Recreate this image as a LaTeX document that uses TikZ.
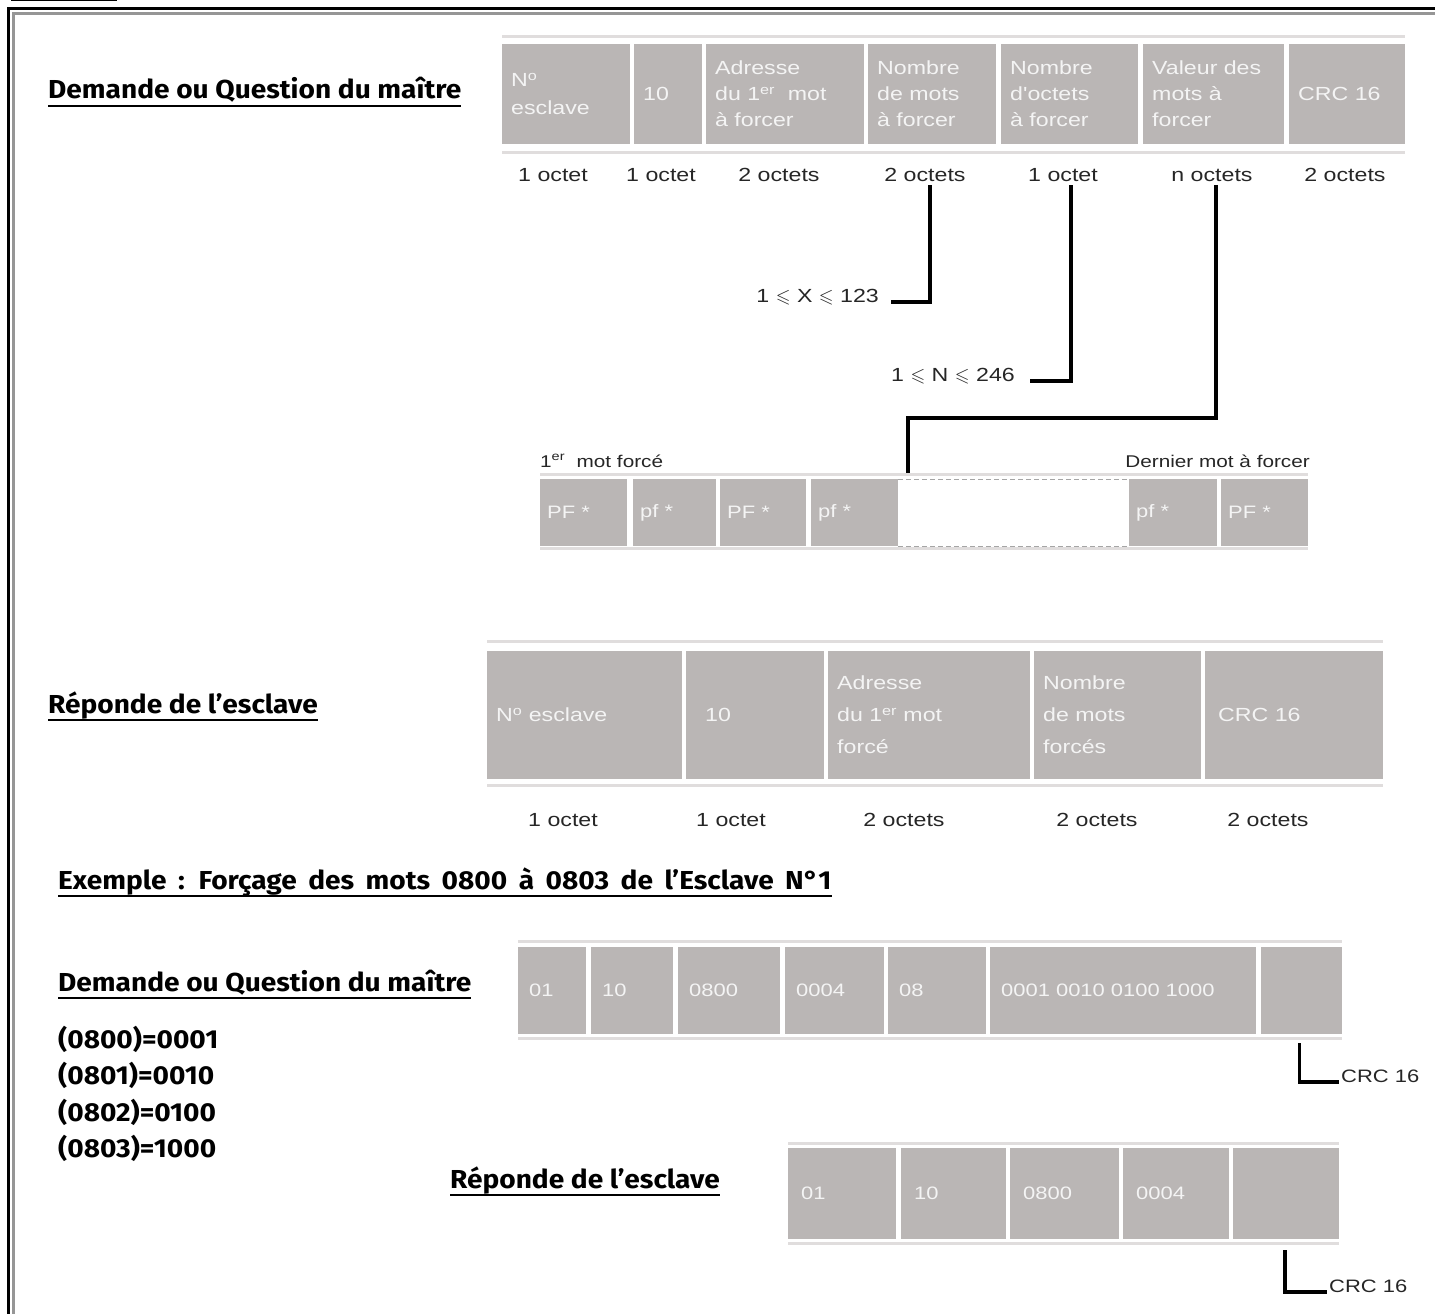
\documentclass[tikz,border=0pt]{standalone}
\usepackage{fontspec}
\usepackage{amssymb}
\newfontfamily\cellfont{Liberation Sans}[FakeStretch=1.22]
\newfontfamily\comicfont{Fira Sans}[FakeStretch=1.08]
\definecolor{cellgrey}{RGB}{186,182,181}
\definecolor{rulegrey}{RGB}{224,221,221}
\definecolor{celltext}{RGB}{244,244,244}
\definecolor{framegrey}{RGB}{150,150,150}
\definecolor{dashgrey}{RGB}{165,165,165}
\usetikzlibrary{positioning}

\begin{document}
\begin{tikzpicture}[
    x=1pt, y=-1pt,
    cell/.style={rectangle,fill=cellgrey,text=celltext,anchor=north west,inner xsep=9pt,inner ysep=0pt,align=left},
    regle/.style={rulegrey,line width=3pt},
    octet/.style={font=\cellfont\fontsize{19}{22}\selectfont,text=black!85},
    link/.style={draw,line width=3.5pt},
    titre/.style={font=\comicfont\bfseries\fontsize{26}{30}\selectfont,anchor=base west,inner sep=0pt},
    souligne/.style={line width=2.5pt}
    ]

    \useasboundingbox (0,0) rectangle (1435,1314);

    % page frame
    \draw[line width=2pt] (11,0.5) -- (117,0.5);
    \draw[line width=3pt] (8.5,1314) -- (8.5,8.5) -- (1435,8.5);
    \draw[framegrey,line width=3pt] (13.5,1314) -- (13.5,13.5) -- (1435,13.5);

    % titles
    \node (t1) [titre] at (48,99) {Demande ou Question du maître};
    \node (t2) [titre] at (48,713) {Réponde de l’esclave};
    \node (t3) [titre] at (58,889) {\spaceskip=11.5pt Exemple : Forçage des mots 0800 à 0803 de l’Esclave N°1};
    \node (t4) [titre] at (58,991) {Demande ou Question du maître};
    \node (t6) [titre] at (450,1188) {Réponde de l’esclave};
    \foreach \n in {t1,t2,t3,t4,t6}
      \draw[souligne] ([yshift=-7pt]\n.base west) -- ([yshift=-7pt]\n.base east);

    \node (v0) [titre] at (58,1048) {(0800)=0001};
    \node (v1) [titre] at (58,1084) {(0801)=0010};
    \node (v2) [titre] at (58,1121) {(0802)=0100};
    \node (v3) [titre] at (58,1157) {(0803)=1000};

    % master request frame
    \foreach \i/\x/\w/\t [evaluate=\w as \tw using \w-18] in {
        1/502/128/{N\textsuperscript{o}\\[2pt]esclave},
        2/634/68/{10},
        3/706/158/{Adresse\\du 1\textsuperscript{er}\ \ mot\\à forcer},
        4/868/128/{Nombre\\de mots\\à forcer},
        5/1001/137/{Nombre\\d'octets\\à forcer},
        6/1143/141/{Valeur des\\mots à\\forcer},
        7/1289/116/{CRC 16}}
      \node (qa\i) [cell,minimum height=100pt,text width=\tw pt,font=\cellfont\fontsize{19}{26}\selectfont] at (\x,44) {\t};
    \draw[regle] ([yshift=7.5pt]qa1.north west) -- ([yshift=7.5pt]qa7.north east);
    \draw[regle] ([yshift=-8pt]qa1.south west) -- ([yshift=-8pt]qa7.south east);

    \foreach \i/\x/\t in {1/553/1 octet,2/661/1 octet,3/779/2 octets,4/925/2 octets,
                          5/1063/1 octet,6/1212/n octets,7/1345/2 octets}
      \node (oa\i) [octet] at (\x,175) {\t};

    \node (lx) [octet,anchor=base east,inner xsep=12pt] at (891,302)
      {1 $\leqslant$ X $\leqslant$ 123};
    \node (ln) [octet,anchor=base east,inner xsep=15pt] at (1030,381)
      {1 $\leqslant$ N $\leqslant$ 246};
    \coordinate (bend) at (908,418);
    \coordinate (pfin) at (908,473);

    \draw[link] ([xshift=5pt]oa4.south) |- (lx.base east);
    \draw[link] ([xshift=8pt]oa5.south) |- (ln.base east);
    \draw[link] ([xshift=4pt]oa6.south) |- (bend) -- (pfin);

    % forced words
    \foreach \i/\x/\w/\t [evaluate=\w as \tw using \w-14] in {
        1/540/87/{PF *},2/633/83/{pf *},3/720/86/{PF *},4/811/87/{pf *},
        6/1129/88/{pf *},7/1221/87/{PF *}}
      \node (pf\i) [cell,inner xsep=7pt,minimum height=67pt,text width=\tw pt,font=\cellfont\fontsize{18}{22}\selectfont] at (\x,479) {\t};
    \node (pf5) [rectangle,anchor=north west,inner sep=0pt,minimum width=229pt,minimum height=67pt] at (898,479) {};
    \draw[dashgrey,line width=1pt,dash pattern=on 5pt off 3pt] (pf5.north west) -- (pf5.north east);
    \draw[dashgrey,line width=1pt,dash pattern=on 5pt off 3pt] (pf5.south west) -- (pf5.south east);
    \draw[regle] ([yshift=5pt]pf1.north west) -- ([yshift=5pt]pf7.north east);
    \draw[regle] ([yshift=-2.5pt]pf1.south west) -- ([yshift=-2.5pt]pf7.south east);

    \node (premier) [octet,anchor=west,inner xsep=0pt,font=\cellfont\fontsize{17}{20}\selectfont] at (540,461)
      {1\textsuperscript{er}\ \ mot forcé};
    \node (dernier) [octet,anchor=east,inner xsep=0pt,font=\cellfont\fontsize{17}{20}\selectfont] at (1310,461)
      {Dernier mot à forcer};

    % slave answer frame
    \foreach \i/\x/\w/\t [evaluate=\w as \tw using \w-18] in {
        1/487/195/{N\textsuperscript{o} esclave},
        2/686/138/{\hspace*{10pt}10},
        3/828/202/{Adresse\\du 1\textsuperscript{er} mot\\forcé},
        4/1034/167/{Nombre\\de mots\\forcés},
        5/1205/178/{\hspace*{4pt}CRC 16}}
      \node (qb\i) [cell,minimum height=128pt,text width=\tw pt,font=\cellfont\fontsize{19}{32}\selectfont] at (\x,651) {\t};
    \draw[regle] ([yshift=10pt]qb1.north west) -- ([yshift=10pt]qb5.north east);
    \draw[regle] ([yshift=-6pt]qb1.south west) -- ([yshift=-6pt]qb5.south east);

    \foreach \i/\x/\t in {1/563/1 octet,2/731/1 octet,3/904/2 octets,4/1097/2 octets,5/1268/2 octets}
      \node (ob\i) [octet] at (\x,820) {\t};

    % example : request
    \foreach \i/\x/\w/\t [evaluate=\w as \tw using \w-22] in {
        1/518/68/{01},2/591/82/{10},3/678/102/{0800},4/785/99/{0004},
        5/888/98/{08},6/990/266/{0001 0010 0100 1000},7/1261/81/{}}
      \node (cc\i) [cell,inner xsep=11pt,minimum height=87pt,text width=\tw pt,font=\cellfont\fontsize{18}{22}\selectfont] at (\x,947) {\t};
    \draw[regle] ([yshift=5.5pt]cc1.north west) -- ([yshift=5.5pt]cc7.north east);
    \draw[regle] ([yshift=-4pt]cc1.south west) -- ([yshift=-4pt]cc7.south east);

    \node (crc1) [octet,anchor=base west,inner xsep=2pt,font=\cellfont\fontsize{18}{22}\selectfont] at (1339,1082) {CRC 16};
    \draw[link] ([xshift=-2pt,yshift=-9pt]cc7.south) |- (crc1.base west);

    % example : answer
    \foreach \i/\x/\w/\t [evaluate=\w as \tw using \w-26] in {
        1/788/108/{01},2/901/105/{10},3/1010/109/{0800},4/1123/106/{0004},5/1233/106/{}}
      \node (cd\i) [cell,inner xsep=13pt,minimum height=91pt,text width=\tw pt,font=\cellfont\fontsize{18}{22}\selectfont] at (\x,1148) {\t};
    \draw[regle] ([yshift=4.5pt]cd1.north west) -- ([yshift=4.5pt]cd5.north east);
    \draw[regle] ([yshift=-4.5pt]cd1.south west) -- ([yshift=-4.5pt]cd5.south east);

    \node (crc2) [octet,anchor=base west,inner xsep=2pt,font=\cellfont\fontsize{18}{22}\selectfont] at (1327,1292) {CRC 16};
    \draw[link] ([xshift=-1pt,yshift=-11pt]cd5.south) |- (crc2.base west);

\end{tikzpicture}
\end{document}
